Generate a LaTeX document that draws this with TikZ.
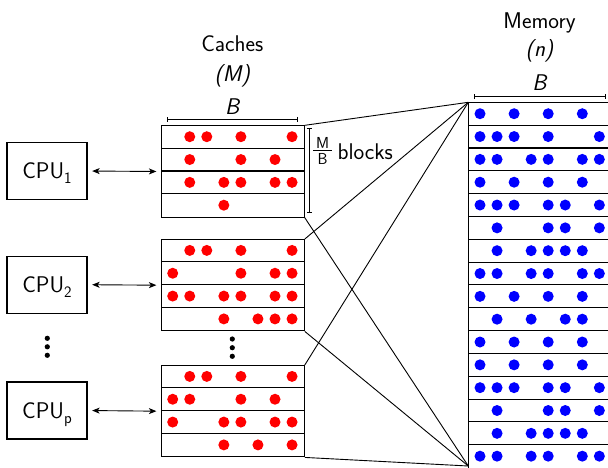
\documentclass[tikz,border=0pt]{standalone}
\usetikzlibrary{arrows.meta}

% draws the horizontal separators of a block of rows
\newcommand{\rowlines}[2]{%
  \foreach \k in {1,...,#2}
    \draw[shift={(#1.north west)}] (0,{22.83*\k}) -- (142.7,{22.83*\k});}

% fills the dots of each row; #3 is a list of column lists, one per row
\newcommand{\fillrows}[3]{%
  \foreach \cols [count=\r from 0] in {#3} {
    \foreach \c in \cols {
      \fill[#2, shift={(#1.north west)}]
        ({11.7+17.05*(\c-1)}, {11.41+22.83*\r}) circle[radius=5.5pt];
    }
  }}

\begin{document}
\begin{tikzpicture}[x=1pt, y=-1pt, line width=1.1pt,
  every node/.style={font=\sffamily\fontsize{22.7}{27}\selectfont, inner sep=0pt},
  cpubox/.style={draw, minimum width=80pt, minimum height=57pt,
    text height=15.7pt, text depth=0pt},
  cachebox/.style={draw, anchor=north west, minimum width=142.7pt, minimum height=91.32pt},
  membox/.style={draw, anchor=north west, minimum width=142.7pt, minimum height=365.28pt},
  cachedot/.style={fill={rgb,255:red,255;green,0;blue,0}},
  memdot/.style={fill={rgb,255:red,0;green,0;blue,255}},
  link/.style={line width=0.9pt},
  bus/.style={line width=0.9pt, {Stealth[length=7.5pt,width=6pt,inset=2pt]}-{Stealth[length=7.5pt,width=6pt,inset=2pt]},
    shorten <=4.6pt, shorten >=4.6pt},
  span/.style={line width=0.9pt, {Bar[width=5pt]}-{Bar[width=5pt]}},
  sub/.style={}
]
\clip (0,0) rectangle (608,467);

% processors
\node[cpubox] (cpu1) at (47,171)   {CPU\raisebox{-5pt}{\fontsize{15.9}{18}\selectfont 1}};
\node[cpubox] (cpu2) at (47,284.7) {CPU\raisebox{-5pt}{\fontsize{15.9}{18}\selectfont 2}};
\node[cpubox] (cpup) at (47,410.5) {CPU\raisebox{-5pt}{\fontsize{15.9}{18}\selectfont p}};
\foreach \yy in {338.3,346.8,355.3} \fill (47.3,\yy) circle[radius=2.6pt];

% caches
\node[cachebox] (c1) at (161,125.3) {};
\node[cachebox] (c2) at (161,239) {};
\node[cachebox] (c3) at (161,365) {};
\foreach \cc in {c1,c2,c3} {\rowlines{\cc}{3}}
\fillrows{c1}{cachedot}{{2,3,5,8},{2,5,7},{2,4,5,7,8},{4}}
\fillrows{c2}{cachedot}{{2,3,5,8},{1,5,7,8},{1,2,4,5,7,8},{4,6,7,8}}
\fillrows{c3}{cachedot}{{2,3,5,8},{1,2,5,7},{1,4,5,7,8},{4,6,8}}
\foreach \yy in {339,347.7,356.3} \fill (232.3,\yy) circle[radius=2.6pt];

% main memory
\node[membox] (mem) at (468.3,102.3) {};
\rowlines{mem}{15}
\fillrows{mem}{memdot}{{1,3,5,7},{1,2,3,5,8},{1,2,4,5,7,8},{1,3,5,7},
  {1,2,3,5,6,8},{2,5,6,8},{2,4,5,6,7},{1,2,4,5,7,8},{1,3,5,7},{2,4,6,7},
  {1,3,5,7},{1,3,5,7},{1,2,3,5,6,8},{2,5,6,8},{2,4,5,6,7},{1,2,4,5,7,8}}

% processor to cache links
\draw[bus] (cpu1.east) -- (c1.west);
\draw[bus] (cpu2.east) -- (c2.west);
\draw[bus] (cpup.east) -- (c3.west);

% cache to memory fan
\coordinate (memtop) at (mem.north west);
\coordinate (membot) at (468.3,466);
\foreach \cc in {c1,c2,c3} {
  \draw[link] (\cc.north east) -- (memtop);
  \draw[link] (\cc.south east) -- (membot);
}

% labels
\node[anchor=base] (capt) at (232.3,51) {Caches};
\node[anchor=base] (capm) at (232.3,81.7) {\itshape (M)};
\node[anchor=base] (capb) at (232.3,114) {\itshape B};
\draw[span] (166.7,119.3) -- (297.7,119.3);

\node[anchor=base] (memt) at (539.5,28.3) {Memory};
\node[anchor=base] (memn) at (539.5,56.7) {\itshape (n)};
\node[anchor=base] (memb) at (539.5,90.7) {\itshape B};
\draw[span] (474.3,96.7) -- (606,96.7);

% number of blocks per cache
\draw[span] (309.2,127.7) -- (309.2,213.3);
\node[anchor=base] (fm) at (322.6,148.2) {\fontsize{15.9}{18}\selectfont M};
\draw[line width=0.8pt] (313.3,150.7) -- (332.3,150.7);
\node[anchor=base] (fb) at (322.6,164.9) {\fontsize{15.9}{18}\selectfont B};
\node[anchor=base west] (blk) at (337,159.3) {blocks};
\end{tikzpicture}
\end{document}
